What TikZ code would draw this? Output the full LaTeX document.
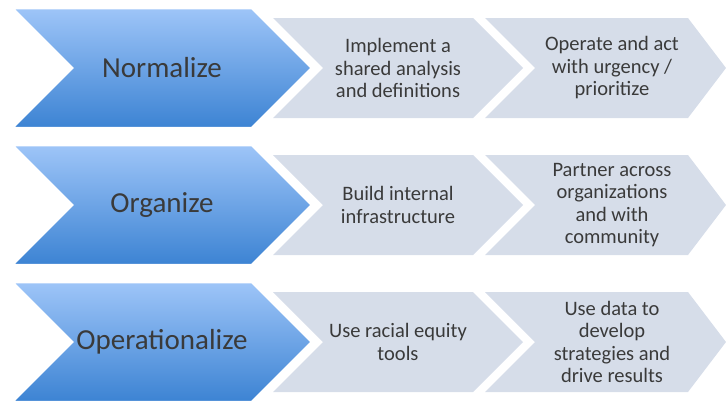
\documentclass[tikz,border=0pt]{standalone}
\usepackage{fontspec}
\setmainfont{Carlito}
\usetikzlibrary{positioning}
\definecolor{phasetop}{RGB}{158,197,248}
\definecolor{phasebot}{RGB}{60,131,211}
\definecolor{taskfill}{RGB}{214,221,233}
\definecolor{txtcolor}{RGB}{58,58,58}

\begin{document}
\begin{tikzpicture}[x=1pt,y=-1pt,
    task/.style={fill=taskfill},
    phase/.style={top color=phasetop,bottom color=phasebot,draw=white,line width=2.5pt},
    phasetxt/.style={text=txtcolor,font=\fontsize{29}{31}\selectfont},
    tasktxt/.style={text=txtcolor,font=\fontsize{20.5}{22.5}\selectfont,align=center}]
    \useasboundingbox (0,0) rectangle (726,402);
    \foreach \y in {68,205,342} {
      \fill[task] (273,\y-50) -- (473,\y-50) -- (523,\y) -- (473,\y+50) -- (273,\y+50) -- (323,\y) -- cycle;
      \fill[task] (485,\y-50) -- (688,\y-50) -- (726,\y) -- (688,\y+50) -- (485,\y+50) -- (535,\y) -- cycle;
      \draw[phase] (12,\y-60) -- (252,\y-60) -- (312,\y) -- (252,\y+60) -- (12,\y+60) -- (72,\y) -- cycle;
    }
    \node[phasetxt] (normalize) at (162,68) {Normalize};
    \node[phasetxt] (organize) at (162,205) {Organize};
    \node[phasetxt] (operational) at (162,342) {Operationalize};
    \node[tasktxt] (shared) at (398,68) {Implement a\\shared analysis\\and definitions};
    \node[tasktxt] (urgency) at (612,68) {Operate and act\\with urgency /\\prioritize};
    \node[tasktxt] (infra) at (398,205) {Build internal\\infrastructure};
    \node[tasktxt] (partner) at (612,205) {Partner across\\organizations\\and with\\community};
    \node[tasktxt] (tools) at (398,342) {Use racial equity\\tools};
    \node[tasktxt] (datadrive) at (612,342) {Use data to\\develop\\strategies and\\drive results};
  \end{tikzpicture}
\end{document}
